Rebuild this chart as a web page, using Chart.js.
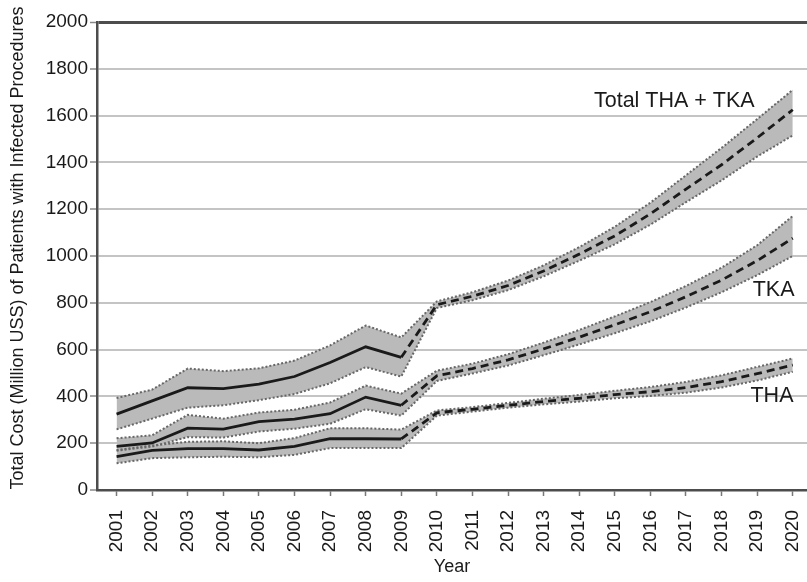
<!DOCTYPE html>
<html>
<head>
<meta charset="utf-8">
<script src="https://cdn.jsdelivr.net/npm/chart.js@4.4.1/dist/chart.umd.min.js"></script>
<style>
    html, body { margin: 0; padding: 0; background: #fff; }
    #wrap { width: 807px; height: 582px; }
</style>
</head>
<body>
<div id="wrap"><canvas id="costChart" width="807" height="582"></canvas></div>
<script>
"use strict";

const years = [2001, 2002, 2003, 2004, 2005, 2006, 2007, 2008, 2009, 2010,
    2011, 2012, 2013, 2014, 2015, 2016, 2017, 2018, 2019, 2020];

// Total THA + TKA, million US$
const totalMean = [324, 381, 437, 433, 452, 485, 545, 612, 567, 792, 828, 874, 936, 1008, 1086, 1180, 1286, 1390, 1505, 1625];
const totalHigh = [393, 429, 519, 508, 520, 553, 618, 703, 652, 806, 845, 895, 960, 1038, 1125, 1228, 1345, 1462, 1585, 1710];
const totalLow = [259, 305, 352, 362, 384, 410, 456, 525, 485, 778, 811, 854, 913, 980, 1050, 1134, 1230, 1323, 1425, 1515];

// TKA
const tkaMean = [186, 201, 264, 260, 292, 303, 326, 397, 362, 488, 519, 556, 603, 653, 706, 762, 826, 897, 980, 1076];
const tkaHigh = [221, 234, 321, 305, 331, 343, 374, 446, 412, 510, 540, 580, 630, 684, 742, 803, 872, 950, 1046, 1171];
const tkaLow = [168, 186, 226, 224, 250, 262, 283, 345, 318, 466, 498, 532, 576, 622, 670, 721, 780, 845, 918, 1000];

// THA
const thaMean = [143, 169, 177, 177, 171, 186, 219, 219, 218, 330, 345, 362, 378, 392, 408, 420, 438, 463, 497, 534];
const thaHigh = [171, 190, 206, 208, 200, 222, 264, 264, 258, 340, 354, 372, 390, 406, 424, 440, 462, 490, 526, 562];
const thaLow = [114, 136, 140, 142, 140, 150, 179, 179, 179, 318, 335, 352, 366, 378, 392, 402, 416, 438, 468, 505];

const yTicks = [0, 200, 400, 600, 800, 1000, 1200, 1400, 1600, 1800, 2000];

// last observed year; projections are dashed from here on
const lastObserved = 2009;

const seriesLabels = [
    { text: "Total THA + TKA", x: 2018.93, y: 1660 },
    { text: "TKA", x: 2020.05, y: 853 },
    { text: "THA", x: 2020.02, y: 403 },
];

const yTitle = "Total Cost (Million USS) of Patients with Infected Procedures";

const FONT = "'Liberation Sans', Arial, Helvetica, sans-serif";
const BAND_FILL = "#bababa";
const DOT_COLOR = "#676767";
const LINE_COLOR = "#1a1a1a";

function toPoints(values, from, to) {
    return years.slice(from, to).map((yr, i) => ({ x: yr, y: values[from + i] }));
}

function bandDatasets(high, low) {
    const edge = {
        borderColor: DOT_COLOR,
        borderWidth: 2,
        borderDash: [2, 2],
        pointRadius: 0,
        tension: 0,
        order: 2,
    };
    return [
        Object.assign({ data: toPoints(high, 0), fill: "+1", backgroundColor: BAND_FILL }, edge),
        Object.assign({ data: toPoints(low, 0), fill: false }, edge),
    ];
}

function meanDatasets(mean) {
    const cut = years.indexOf(lastObserved);
    const base = { borderColor: LINE_COLOR, borderWidth: 2.8, pointRadius: 0, tension: 0, fill: false, order: 0 };
    return [
        Object.assign({ data: toPoints(mean, 0, cut + 1) }, base),
        Object.assign({ data: toPoints(mean, cut), borderDash: [8, 5] }, base),
    ];
}

const datasets = [].concat(
    bandDatasets(totalHigh, totalLow),
    bandDatasets(tkaHigh, tkaLow),
    bandDatasets(thaHigh, thaLow),
    meanDatasets(totalMean),
    meanDatasets(tkaMean),
    meanDatasets(thaMean)
);

// curve names inside the plot, plus the vertical axis title
const textPlugin = {
    id: "chartText",
    afterDatasetsDraw(chart) {
        const { ctx, scales } = chart;
        ctx.save();
        ctx.font = "21.5px " + FONT;
        ctx.fillStyle = "#1a1a1a";
        ctx.textAlign = "right";
        ctx.textBaseline = "middle";
        seriesLabels.forEach(lbl => {
            ctx.fillText(lbl.text, scales.x.getPixelForValue(lbl.x), scales.y.getPixelForValue(lbl.y));
        });

        ctx.font = "18px " + FONT;
        ctx.textAlign = "center";
        ctx.translate(18, 248);
        ctx.rotate(-Math.PI / 2);
        ctx.fillText(yTitle, 0, 0);
        ctx.restore();
    },
};

const chartContext = document.getElementById("costChart").getContext("2d");

new Chart(chartContext, {
    type: "line",
    data: { datasets: datasets },
    plugins: [textPlugin],
    options: {
        responsive: false,
        animation: false,
        layout: { padding: { left: 7, top: 22, right: 0, bottom: 4 } },
        plugins: {
            legend: { display: false },
            tooltip: { enabled: false },
            filler: { drawTime: "beforeDatasetsDraw" },
        },
        scales: {
            x: {
                type: "linear",
                min: 2000.45,
                max: 2020.4,
                afterBuildTicks: scale => {
                    scale.ticks = years.map(v => ({ value: v }));
                },
                afterFit: scale => {
                    scale.height = 88;
                    scale.paddingLeft = 0;
                    scale.paddingRight = 0;
                },
                grid: {
                    drawOnChartArea: false,
                    drawTicks: true,
                    tickLength: 6,
                    tickColor: "#777",
                    tickWidth: 1.5,
                },
                border: { color: "#4d4d4d", width: 2.5 },
                ticks: {
                    autoSkip: false,
                    maxRotation: 90,
                    minRotation: 90,
                    padding: 14,
                    color: "#1a1a1a",
                    font: { family: FONT, size: 19 },
                    callback: v => String(v),
                },
                title: {
                    display: true,
                    text: "Year",
                    color: "#1a1a1a",
                    font: { family: FONT, size: 18 },
                    padding: { top: 0, bottom: 0 },
                },
            },
            y: {
                min: 0,
                max: 2000,
                afterBuildTicks: scale => {
                    scale.ticks = yTicks.map(v => ({ value: v }));
                },
                afterFit: scale => {
                    scale.width = 90;
                },
                grid: {
                    color: c => (c.tick && c.tick.value === 2000 ? "#4d4d4d" : "#c4c4c4"),
                    lineWidth: c => (c.tick && c.tick.value === 2000 ? 3 : 2),
                    tickColor: "#888",
                    tickLength: 7,
                    tickWidth: 1.5,
                },
                border: { color: "#4d4d4d", width: 2.5 },
                ticks: {
                    padding: 2,
                    color: "#1a1a1a",
                    font: { family: FONT, size: 19 },
                    callback: v => String(v),
                },
            },
        },
    },
});
</script>
</body>
</html>
